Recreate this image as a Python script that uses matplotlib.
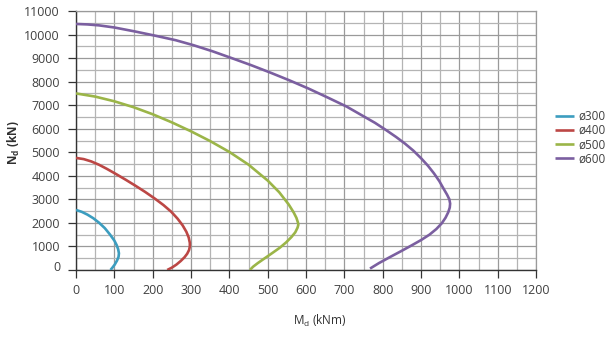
import matplotlib
matplotlib.use("Agg")
import matplotlib.pyplot as plt
from matplotlib.ticker import MultipleLocator
import matplotlib.transforms as mtransforms

plt.rcParams['font.family'] = ['Open Sans', 'DejaVu Sans']
plt.rcParams['mathtext.fontset'] = 'custom'
plt.rcParams['mathtext.rm'] = 'Open Sans'
plt.rcParams['mathtext.it'] = 'Open Sans'
plt.rcParams['mathtext.bf'] = 'Open Sans:bold'
plt.rcParams['mathtext.default'] = 'regular'

# Data (M_d in kNm, N_d in kN)
labels = ['ø300', 'ø400', 'ø500', 'ø600']
colors = ['#3c9dbf', '#bc4745', '#9bb548', '#7b5fa0']

m300 = [0, 15, 30, 45, 60, 75, 89, 100, 106, 110, 112, 111, 107, 101, 95, 90]
n300 = [2550, 2470, 2350, 2200, 2010, 1780, 1500, 1250, 1060, 880, 710, 560, 400, 230, 100, 0]

m400 = [0, 20, 40, 60, 80, 105, 130, 155, 180, 205, 228, 248, 265, 278, 288, 294, 297,
        297, 295, 290, 283, 273, 262, 250, 238]
n400 = [4760, 4710, 4610, 4470, 4300, 4070, 3830, 3580, 3320, 3040, 2760, 2480, 2180, 1900, 1620, 1380, 1150,
        1000, 850, 690, 540, 380, 230, 100, 0]

m500 = [0, 50, 100, 150, 200, 250, 300, 350, 400, 450, 500, 530, 555, 568, 575, 579, 580,
        578, 572, 562, 548, 532, 512, 492, 474, 462, 456, 454]
n500 = [7500, 7365, 7165, 6915, 6615, 6270, 5890, 5475, 5015, 4475, 3800, 3305, 2780, 2440, 2215, 2015, 1920,
        1800, 1600, 1400, 1170, 950, 720, 495, 290, 140, 40, 0]

m600 = [0, 30, 60, 100, 154, 210, 260, 306, 356, 406, 456, 506, 556, 606, 656, 706, 780, 810, 835, 858, 880,
        900, 918, 934, 948, 959, 968, 974, 976, 975, 971, 964, 954, 940, 922, 900, 875, 848, 818, 790, 767]
n600 = [10450, 10430, 10390, 10300, 10130, 9940, 9760, 9550, 9290, 9000, 8705, 8390, 8060, 7710, 7330, 6940, 6250, 5930, 5650, 5370, 5070,
        4750, 4430, 4100, 3770, 3450, 3200, 3000, 2820, 2650, 2450, 2220, 1980, 1740, 1500, 1270, 1040, 800, 540, 290, 60]

xticks = list(range(0, 1201, 100))
yticks = list(range(0, 11001, 1000))

fig = plt.figure(figsize=(6.13, 3.37), dpi=100)
ax = fig.add_axes([76/613, 1-270/337, 460/613, 259/337])

for m, n, c, lab in zip([m300, m400, m500, m600], [n300, n400, n500, n600], colors, labels):
    ax.plot(m, n, color=c, lw=1.9, label=lab, solid_capstyle='butt', solid_joinstyle='round', zorder=3)

ax.set_xlim(0, 1200)
ax.set_ylim(0, 11000)
ax.set_xticks(xticks)
ax.set_yticks(yticks)
ax.xaxis.set_minor_locator(MultipleLocator(50))
ax.yaxis.set_minor_locator(MultipleLocator(500))
ax.grid(which='major', color='#9a9a9a', lw=0.9, zorder=0)
ax.grid(which='minor', color='#b4b4b4', lw=0.9, zorder=0)
ax.set_axisbelow(True)

for s in ['top', 'right']:
    ax.spines[s].set_color('#9a9a9a')
    ax.spines[s].set_linewidth(0.9)
for s in ['left', 'bottom']:
    ax.spines[s].set_color('#333333')
    ax.spines[s].set_linewidth(1.0)

ax.tick_params(which='major', direction='out', length=6, width=0.9, color='#333333',
               labelsize=9, labelcolor='#404040')
ax.tick_params(axis='y', pad=5.5)
ax.tick_params(axis='x', pad=4)
ax.tick_params(which='minor', length=0)

ax.set_xlabel('M$_d$ (kNm)', fontsize=8.5, color='#303030')
ax.xaxis.set_label_coords(0.53, -0.165)
ax.set_ylabel('N$_d$ (kN)', fontsize=8.5, color='#303030', fontweight='bold')
ax.yaxis.set_label_coords(-0.118, 0.49)

# Lift the "0" label a little as in the reference
fig.canvas.draw()
lbl0 = ax.get_yticklabels()[0]
lbl0.set_transform(lbl0.get_transform() + mtransforms.ScaledTranslation(0, 4/100, fig.dpi_scale_trans))

ax.legend(loc='upper left', bbox_to_anchor=(555/613, 1-110/337), bbox_transform=fig.transFigure,
          frameon=False, fontsize=8.5, handlelength=1.6, handletextpad=0.35,
          labelspacing=0.1, borderaxespad=0, borderpad=0, labelcolor='#404040')

fig.savefig('out.png', dpi=100)
